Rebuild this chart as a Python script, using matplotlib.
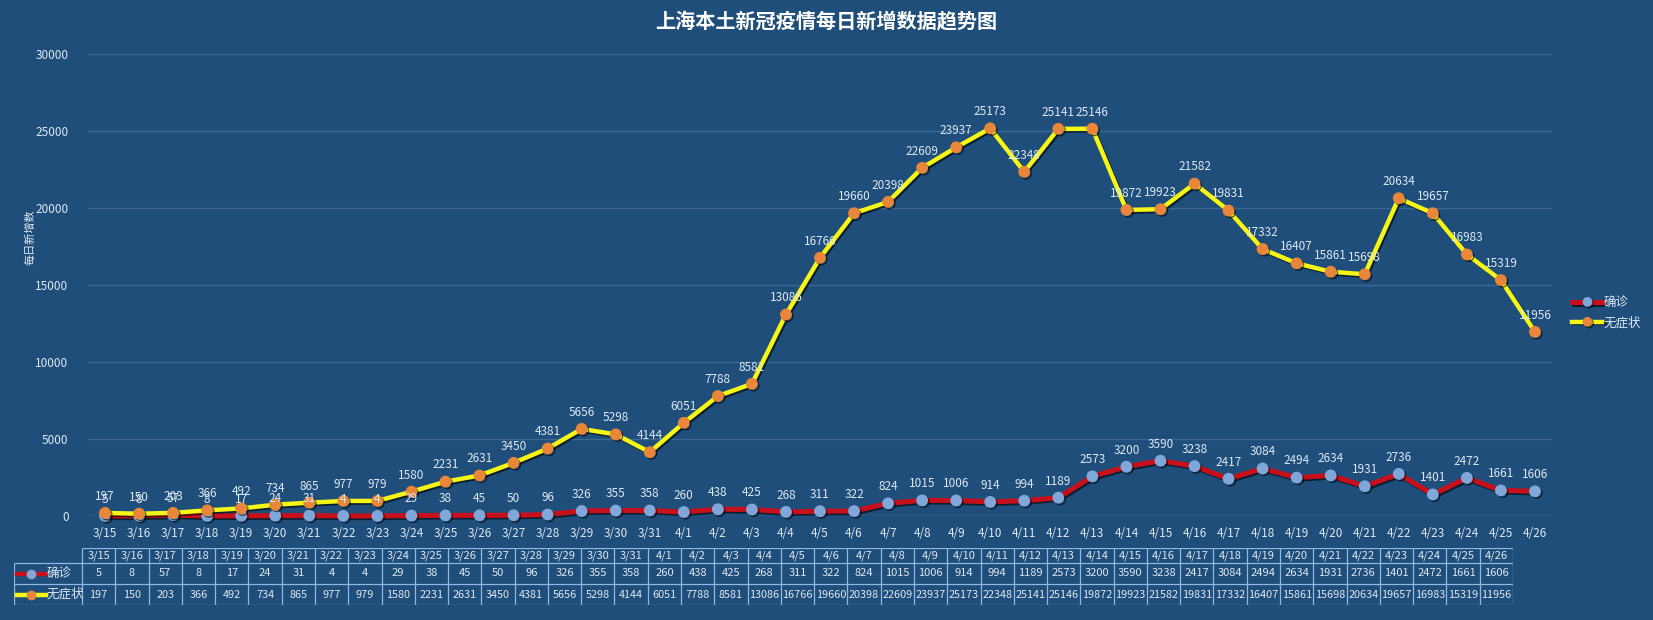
import matplotlib
matplotlib.use('Agg')
import matplotlib.pyplot as plt
import matplotlib.patheffects as pe

plt.rcParams['font.family'] = ['Noto Sans CJK SC', 'DejaVu Sans']

dates = ['3/15', '3/16', '3/17', '3/18', '3/19', '3/20', '3/21', '3/22', '3/23', '3/24',
         '3/25', '3/26', '3/27', '3/28', '3/29', '3/30', '3/31', '4/1', '4/2', '4/3',
         '4/4', '4/5', '4/6', '4/7', '4/8', '4/9', '4/10', '4/11', '4/12', '4/13',
         '4/14', '4/15', '4/16', '4/17', '4/18', '4/19', '4/20', '4/21', '4/22', '4/23',
         '4/24', '4/25', '4/26']
confirmed = [5, 8, 57, 8, 17, 24, 31, 4, 4, 29,
             38, 45, 50, 96, 326, 355, 358, 260, 438, 425,
             268, 311, 322, 824, 1015, 1006, 914, 994, 1189, 2573,
             3200, 3590, 3238, 2417, 3084, 2494, 2634, 1931, 2736, 1401,
             2472, 1661, 1606]
asymptomatic = [197, 150, 203, 366, 492, 734, 865, 977, 979, 1580,
                2231, 2631, 3450, 4381, 5656, 5298, 4144, 6051, 7788, 8581,
                13086, 16766, 19660, 20398, 22609, 23937, 25173, 22348, 25141, 25146,
                19872, 19923, 21582, 19831, 17332, 16407, 15861, 15698, 20634, 19657,
                16983, 15319, 11956]
series_names = ['确诊', '无症状']
title = '上海本土新冠疫情每日新增数据趋势图'
ylabel = '每日新增数'

BG = '#1f4e7a'
TXT = '#dde8f3'
GRID = '#3d6894'
RED = '#c8101c'
BLUE_MK = '#7fa7da'
YEL = '#f5f518'
ORG = '#e8863a'

W, H = 1653, 620
fig = plt.figure(figsize=(W / 100, H / 100), dpi=100, facecolor=BG)

ax = fig.add_axes([88 / W, (H - 516) / H, (1552 - 88) / W, (516 - 54) / H])
ax.set_facecolor(BG)
n = len(dates)
x = list(range(n))
ax.set_xlim(-0.5, n - 0.5)
ax.set_ylim(0, 30000)
ax.set_yticks(range(0, 30001, 5000))
ax.yaxis.grid(True, color=GRID, lw=1)
ax.set_axisbelow(True)
for s in ax.spines.values():
    s.set_visible(False)
ax.tick_params(axis='both', length=0, colors=TXT, labelsize=8.5)
ax.tick_params(axis='y', pad=14)
ax.tick_params(axis='x', pad=8)
ax.set_xticks(x)
ax.set_xticklabels(dates)

shadow = [pe.SimpleLineShadow(offset=(1.2, -1.2), shadow_color='black', alpha=0.6), pe.Normal()]
l1, = ax.plot(x, confirmed, color=RED, lw=3.6, marker='o', ms=7.5, mfc=BLUE_MK, mec=BLUE_MK,
              path_effects=shadow, clip_on=False, zorder=3, label=series_names[0])
l2, = ax.plot(x, asymptomatic, color=YEL, lw=3.2, marker='o', ms=7.5, mfc=ORG, mec=ORG,
              path_effects=shadow, clip_on=False, zorder=4, label=series_names[1])

for i in x:
    ax.annotate(str(confirmed[i]), (i, confirmed[i]), xytext=(0, 12), textcoords='offset points',
                ha='center', va='center', color=TXT, fontsize=8.5, zorder=5)
    ax.annotate(str(asymptomatic[i]), (i, asymptomatic[i]), xytext=(0, 12), textcoords='offset points',
                ha='center', va='center', color=TXT, fontsize=8.5, zorder=5)

leg = ax.legend(handles=[l1, l2], loc='center left', bbox_to_anchor=(1.014, 0.44), frameon=False,
                fontsize=9, labelcolor=TXT, handlelength=2.4, labelspacing=0.55,
                handletextpad=0.1, borderaxespad=0, borderpad=0)
for h in leg.legend_handles:
    h.set_markersize(6)

fig.text(0.5, (H - 22) / H, title, ha='center', va='center', color='white', fontsize=14.5,
         fontweight='bold')
fig.text(30 / W, (H - 237) / H, ylabel, ha='center', va='center', rotation=90, color=TXT, fontsize=8)

# data table under the chart
tl, tr = 14, 1513
tax = fig.add_axes([tl / W, (H - 605) / H, (tr - tl) / W, (605 - 548) / H])
tax.set_facecolor('none')
tax.axis('off')
lab_w = (82 - tl) / ((tr - 82) / n)
tax.set_xlim(-lab_w, n)
tax.set_ylim(0, 57)
LINE = '#8fb9e3'
row_y = [57, 42, 21, 0]
tax.hlines(row_y[0], 0, n, color=LINE, lw=0.9)
tax.hlines(row_y[1:], -lab_w, n, color=LINE, lw=0.9)
tax.vlines(range(n + 1), 0, 57, color=LINE, lw=0.9)
tax.vlines(-lab_w, 0, row_y[1], color=LINE, lw=0.9)
for i in range(n):
    tax.text(i + 0.5, 49.5, dates[i], ha='center', va='center', color=TXT, fontsize=8)
    tax.text(i + 0.5, 31.5, str(confirmed[i]), ha='center', va='center', color=TXT, fontsize=8)
    tax.text(i + 0.5, 10.5, str(asymptomatic[i]), ha='center', va='center', color=TXT, fontsize=7.8)
k0, k1 = -lab_w + 0.08, -lab_w + 0.95
tax.plot([k0, k1], [31.5, 31.5], color=RED, lw=3.2)
tax.plot([(k0 + k1) / 2], [31.5], 'o', ms=6, color=BLUE_MK)
tax.plot([k0, k1], [10.5, 10.5], color=YEL, lw=3.2)
tax.plot([(k0 + k1) / 2], [10.5], 'o', ms=6, color=ORG)
tax.text(k1 + 0.02, 31.5, series_names[0], ha='left', va='center', color=TXT, fontsize=9)
tax.text(k1 + 0.02, 10.5, series_names[1], ha='left', va='center', color=TXT, fontsize=9)

fig.savefig('out.png', dpi=100, facecolor=BG)
